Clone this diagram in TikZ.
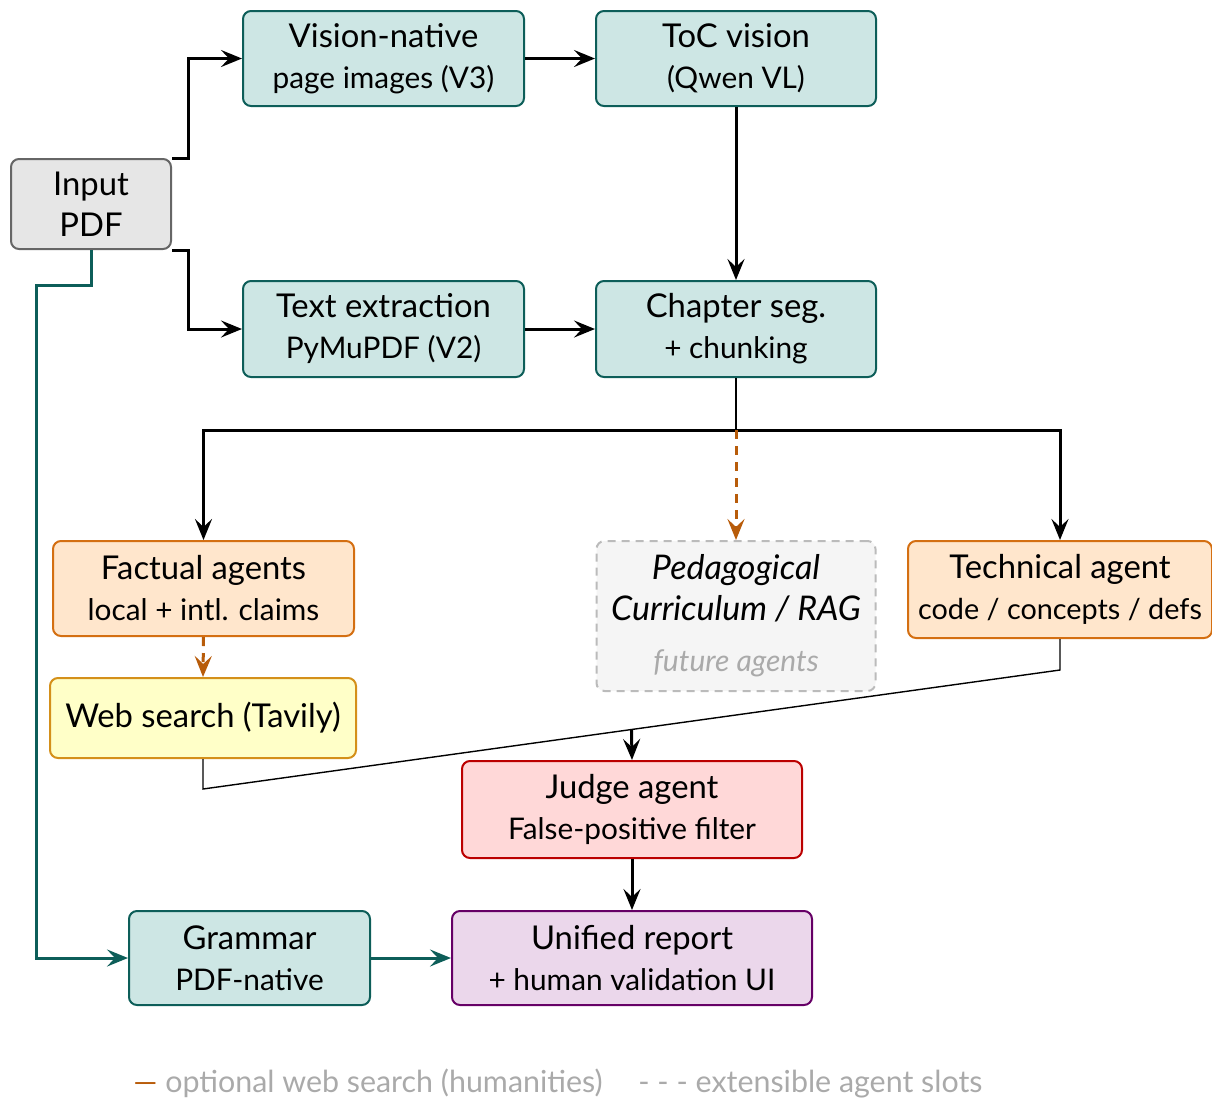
\documentclass[tikz,border=0pt]{standalone}
\usepackage{fontspec}
\setmainfont{Lato}
\usetikzlibrary{arrows.meta,calc}
\definecolor{tealfill}{HTML}{CDE6E4}
\definecolor{tealline}{HTML}{0D5E59}
\definecolor{grayfill}{HTML}{E6E6E6}
\definecolor{grayline}{HTML}{666666}
\definecolor{orfill}{HTML}{FFE6CC}
\definecolor{orline}{HTML}{D46F12}
\definecolor{ordash}{HTML}{B85C0A}
\definecolor{yelfill}{HTML}{FFFFC8}
\definecolor{yelline}{HTML}{D4901A}
\definecolor{redfill}{HTML}{FFD8D8}
\definecolor{redline}{HTML}{BB0000}
\definecolor{purfill}{HTML}{EBD7EB}
\definecolor{purline}{HTML}{660066}
\definecolor{pedfill}{HTML}{F5F5F5}
\definecolor{pedline}{HTML}{BBBBBB}
\definecolor{softgray}{HTML}{AAAAAA}
\newcommand{\titlfont}{\fontsize{16.4}{20.5}\selectfont}
\newcommand{\sublfont}{\fontsize{14.9}{20.5}\selectfont}
\newcommand{\legfont}{\fontsize{15.2}{20.5}\selectfont}
\begin{document}
\begin{tikzpicture}[x=0.5pt,y=-0.5pt,
  box/.style={rounded corners=4pt, line width=1pt, align=center, inner sep=0pt, font=\titlfont},
  tealbox/.style={box, fill=tealfill, draw=tealline},
  inbox/.style={box, fill=grayfill, draw=grayline},
  orbox/.style={box, fill=orfill, draw=orline},
  yelbox/.style={box, fill=yelfill, draw=yelline},
  redbox/.style={box, fill=redfill, draw=redline},
  purbox/.style={box, fill=purfill, draw=purline},
  pedbox/.style={box, fill=pedfill, draw=pedline, dash pattern=on 4pt off 3pt},
  tip/.tip={Stealth[length=10.5pt,width=8.5pt,inset=4pt]},
  arr/.style={line width=1.5pt, -tip},
  tealarr/.style={arr, draw=tealline},
  optarr/.style={line width=1.5pt, draw=ordash, dash pattern=on 4.5pt off 3.5pt, -{Stealth[length=10.5pt,width=8.5pt,inset=4pt,fill=ordash]}},
  thinline/.style={line width=0.7pt},
  legend/.style={anchor=base west, inner sep=0pt, font=\legfont, text=softgray}
]
\useasboundingbox (0,0) rectangle (1212,1100);

\node[inbox, minimum width=80pt, minimum height=45pt] (input) at (91,204) {Input\\PDF};
\node[tealbox, minimum width=140.5pt, minimum height=47.5pt] (vision) at (383.5,58.5) {Vision-native\\{\sublfont page images (V3)}};
\node[tealbox, minimum width=140pt, minimum height=47.5pt] (toc) at (736,58.5) {ToC vision\\{\sublfont (Qwen VL)}};
\node[tealbox, minimum width=140.5pt, minimum height=48pt] (text) at (383.5,329) {Text extraction\\{\sublfont PyMuPDF (V2)}};
\node[tealbox, minimum width=140pt, minimum height=48pt] (chap) at (736,329) {Chapter seg.\\{\sublfont + chunking}};
\node[orbox, minimum width=150.5pt, minimum height=47.5pt] (fact) at (203.5,588.5) {Factual agents\\{\sublfont local + intl. claims}};
\node[pedbox, minimum width=139.5pt, minimum height=75pt] (ped) at (736,616) {\fontsize{17}{21}\selectfont\textit{Pedagogical}\\\fontsize{17}{21}\selectfont\textit{Curriculum / RAG}\\[5pt]{\fontsize{15}{20}\selectfont\color{softgray}\textit{future agents}}};
\node[orbox, minimum width=152pt, minimum height=48.5pt] (tech) at (1060,589.5) {Technical agent\\{\fontsize{14.4}{20.5}\selectfont code / concepts / defs}};
\node[yelbox, minimum width=153pt, minimum height=40pt] (web) at (203,718) {Web search (Tavily)};
\node[redbox, minimum width=170pt, minimum height=48.5pt] (judge) at (632,809.5) {Judge agent\\{\sublfont False-positive filter}};
\node[tealbox, minimum width=120.5pt, minimum height=47pt] (gram) at (249.5,958) {Grammar\\{\sublfont PDF-native}};
\node[purbox, minimum width=180pt, minimum height=47pt] (unif) at (632,958) {Unified report\\{\sublfont + human validation UI}};

% input branches
\draw[arr] (input.north east) -- ++(16,0) |- (vision.west);
\draw[arr] (input.south east) -- ++(16,0) |- (text.west);
\draw[arr] (vision.east) -- (vision.east -| toc.west);
\draw[arr] (toc.south) -- (chap.north);
\draw[arr] (text.east) -- (text.east -| chap.west);

% split to agents
\coordinate (split) at (chap.south |- 0,430);
\draw[thinline] (chap.south) -- (split);
\draw[arr] (split) -| (fact.north);
\draw[arr] (split) -| (tech.north);
\draw[optarr] (split) -- (ped.north);
\draw[optarr] (fact.south) -- (web.north);

% merge to judge
\coordinate (w1) at (web.south |- 0,789);
\coordinate (t1) at (tech.south |- 0,670);
\draw[thinline] (web.south) -- (w1) -- (t1) -- (tech.south);
\coordinate (mid) at ($(w1)!0.5!(t1)$);
\draw[arr] (mid) -- (judge.north);
\draw[arr] (judge.south) -- (unif.north);

% grammar path
\coordinate (g2) at (36,285);
\draw[tealarr] (input.south) |- (g2) |- (gram.west);
\draw[tealarr] (gram.east) -- (unif.west);

% legend
\node[legend] (leg1) at (133,1092) {{\color{ordash}—} optional web search (humanities)};
\node[legend] (leg2) at (638,1092) {- - - extensible agent slots};
\end{tikzpicture}
\end{document}
